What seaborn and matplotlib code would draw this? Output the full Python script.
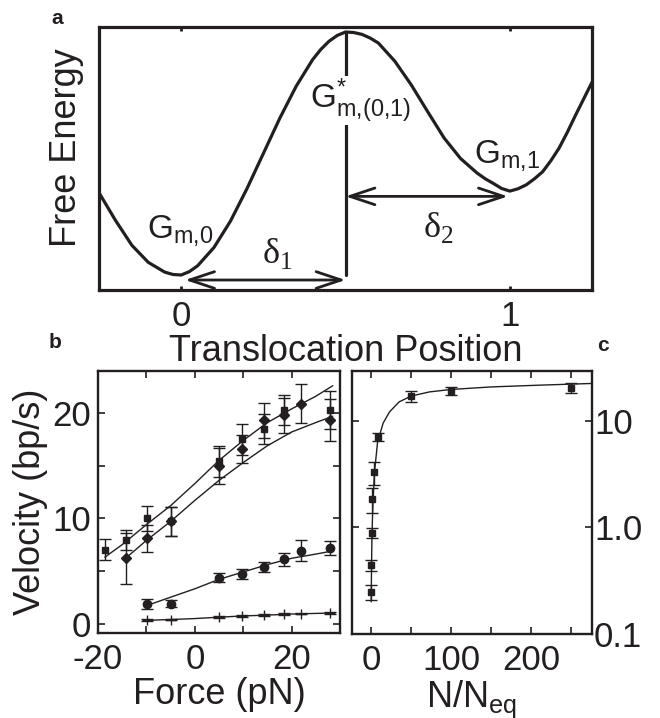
import matplotlib
matplotlib.use("Agg")
import matplotlib.pyplot as plt
import seaborn as sns
import numpy as np
from matplotlib.ticker import MultipleLocator, NullLocator

# panel a: schematic free energy profile
pos = [-0.25, -0.2, -0.15, -0.1, -0.05, -0.025, 0.0, 0.025, 0.05, 0.1, 0.15,
       0.2, 0.25, 0.3, 0.35, 0.4, 0.425, 0.45, 0.475, 0.5, 0.525, 0.55, 0.575,
       0.6, 0.65, 0.7, 0.75, 0.8, 0.85, 0.9, 0.925, 0.95, 0.975, 1.0, 1.025,
       1.05, 1.075, 1.1, 1.125, 1.15, 1.175, 1.2, 1.25]
energy = [0.37, 0.265, 0.17, 0.105, 0.068, 0.059, 0.057, 0.070, 0.092, 0.162,
          0.262, 0.385, 0.519, 0.653, 0.775, 0.876, 0.915, 0.946, 0.968, 0.981,
          0.979, 0.972, 0.958, 0.939, 0.87, 0.78, 0.678, 0.578, 0.50, 0.445,
          0.423, 0.405, 0.386, 0.376, 0.385, 0.40, 0.423, 0.45, 0.492, 0.54,
          0.60, 0.665, 0.79]

# panel b: velocity vs force, four data sets with fits
force_sq = [-18.6, -14.3, -9.8, -5.0, 5.0, 9.8, 14.2, 18.4, 27.9]
vel_sq = [7.0, 7.9, 10.0, 9.7, 15.4, 17.5, 18.5, 20.3, 20.3]
err_sq = [1.0, 0.95, 1.2, 1.4, 1.5, 1.5, 1.4, 1.4, 1.8]

force_di = [-14.3, -9.8, -5.0, 5.0, 9.8, 14.2, 18.4, 21.9, 27.9]
vel_di = [6.2, 8.1, 9.7, 15.0, 16.6, 19.3, 19.8, 20.9, 19.3]
err_di = [2.4, 1.3, 1.4, 1.7, 1.35, 1.7, 1.65, 1.85, 2.0]

force_ci = [-9.8, -5.0, 5.0, 9.8, 14.2, 18.4, 21.9, 27.9]
vel_ci = [1.84, 1.9, 4.37, 4.7, 5.4, 6.1, 6.9, 7.2]
err_ci = [0.5, 0.3, 0.45, 0.45, 0.47, 0.6, 1.0, 0.66]

force_pl = [-9.8, -5.0, 5.0, 9.8, 14.2, 18.4, 21.9, 27.9]
vel_pl = [0.32, 0.38, 0.63, 0.73, 0.79, 0.89, 0.95, 1.0]
err_pl = [0.08, 0.08, 0.08, 0.08, 0.08, 0.08, 0.08, 0.08]

fit1_f = [-18.6, -15, -10, -5, 0, 5, 10, 15, 20, 25, 28.5]
fit1_v = [6.3, 7.5, 9.4, 11.2, 13.3, 15.5, 17.4, 19.1, 20.4, 21.6, 22.6]
fit2_f = [-14.3, -10, -5, 0, 5, 10, 15, 20, 25, 28.5]
fit2_v = [6.2, 7.9, 9.7, 11.7, 13.6, 15.3, 16.9, 18.2, 19.1, 19.7]
fit3_f = [-10, -5, 0, 5, 10, 15, 20, 25, 28.5]
fit3_v = [1.7, 2.5, 3.3, 4.2, 4.9, 5.6, 6.2, 6.6, 6.9]
fit4_f = [-10, -5, 0, 5, 10, 15, 20, 25, 28.5]
fit4_v = [0.3, 0.38, 0.47, 0.6, 0.72, 0.8, 0.9, 0.96, 1.0]

# panel c: velocity vs N/Neq (log scale)
n_ratio = [0.1, 0.3, 0.6, 1, 3, 9, 50, 100, 250]
vel_c = [0.25, 0.44, 0.89, 1.86, 3.3, 7.1, 17.0, 19.0, 20.4]
err_c = [0.04, 0.05, 0.1, 0.5, 0.8, 0.6, 2.0, 1.7, 2.1]
fitc_n = [0, 0.5, 1, 2, 4, 8, 15, 23, 35, 50, 73, 100, 150, 210, 275]
fitc_v = [0.2, 0.45, 0.85, 1.5, 3.2, 6.3, 9.5, 12.1, 15.0, 17.0, 18.6, 19.6,
          20.7, 21.5, 22.3]

sns.set_style("ticks")
plt.rcParams['font.family'] = ['Liberation Sans', 'DejaVu Sans']
plt.rcParams['axes.unicode_minus'] = False
ink = '#231f20'

fig = plt.figure(figsize=(6.6, 7.18), dpi=100)
ax_a = fig.add_axes([0.15, 0.5961, 0.747, 0.3663])
ax_b = fig.add_axes([0.1485, 0.1184, 0.3667, 0.3649])
ax_c = fig.add_axes([0.5333, 0.117, 0.3636, 0.3663])

# ---- panel a
sns.lineplot(x=pos, y=energy, ax=ax_a, color=ink, lw=2.3, sort=False, zorder=3)
e = np.array(energy)
p = np.array(pos)
i_top = int(np.argmax(e))
i_min0 = int(np.argmin(e))
i_min1 = int(np.argmin(np.where(p > p[i_top], e, 9)))
ax_a.plot([p[i_top], p[i_top]], [e[i_min0], e[i_top]], color=ink, lw=2.3, zorder=1)
arrow = dict(arrowstyle='<->,head_length=0.9,head_width=0.3', color=ink,
             lw=2.0, mutation_scale=20, shrinkA=0, shrinkB=0)
ax_a.annotate('', xy=(p[i_min0] + 0.012, e[i_min0] - 0.019),
              xytext=(p[i_top], e[i_min0] - 0.019), arrowprops=arrow)
ax_a.annotate('', xy=(p[i_top], e[i_min1] - 0.02),
              xytext=(p[i_min1] - 0.006, e[i_min1] - 0.02), arrowprops=arrow)

ax_a.text(-0.104, 0.20, r'$\mathregular{G_{m{,}0}}$', fontsize=24,
          ha='left', va='baseline', color=ink)
ax_a.text(0.89, 0.483, r'$\mathregular{G_{m{,}1}}$', fontsize=24,
          ha='left', va='baseline', color=ink)
ax_a.text(0.393, 0.692, r'$\mathregular{G^{*}_{m{,}(0{,}1)}}$', fontsize=24,
          ha='left', va='baseline', color=ink, zorder=2,
          bbox=dict(facecolor='white', edgecolor='none', pad=0))
ax_a.text(0.247, 0.103, r'δ$_\mathregular{1}$', fontsize=26, family='Liberation Serif',
          ha='left', va='baseline', color=ink)
ax_a.text(0.735, 0.2015, r'δ$_\mathregular{2}$', fontsize=26, family='Liberation Serif',
          ha='left', va='baseline', color=ink)

ax_a.set_xlim(-0.25, 1.25)
ax_a.set_ylim(0, 1)
ax_a.set_xticks([0, 1])
ax_a.set_yticks([])
ax_a.tick_params(axis='x', direction='in', top=True, length=3, width=2,
                 labelsize=25, pad=7, colors=ink)
ax_a.set_xlabel('Translocation Position', fontsize=26, labelpad=1, color=ink)
ax_a.set_ylabel('Free Energy', fontsize=26, labelpad=9, color=ink)
ax_a.yaxis.set_label_coords(-0.03, 0.54)
for s in ax_a.spines.values():
    s.set_visible(True)
    s.set_linewidth(2.3)
    s.set_color(ink)
    s.set_zorder(4)

# ---- panel b
eb = dict(color=ink, ecolor=ink, elinewidth=1, capsize=4, capthick=1, lw=0)
ax_b.errorbar(force_sq, vel_sq, yerr=err_sq, fmt='s', ms=5, **eb)
ax_b.errorbar(force_di, vel_di, yerr=err_di, fmt='D', ms=5, **eb)
ax_b.errorbar(force_ci, vel_ci, yerr=err_ci, fmt='o', ms=6, **eb)
ax_b.errorbar(force_pl, vel_pl, yerr=err_pl, fmt='+', ms=7, mew=1, **eb)
for fx, fy in [(fit1_f, fit1_v), (fit2_f, fit2_v), (fit3_f, fit3_v), (fit4_f, fit4_v)]:
    sns.lineplot(x=fx, y=fy, ax=ax_b, color=ink, lw=1)

ax_b.set_xlim(-20, 30)
ax_b.set_ylim(-0.9, 24)
ax_b.set_xticks([-20, 0, 20])
ax_b.xaxis.set_minor_locator(MultipleLocator(10))
ax_b.set_yticks([0, 10, 20])
ax_b.yaxis.set_minor_locator(MultipleLocator(5))
ax_b.tick_params(which='both', direction='in', top=True, right=True, length=5,
                 width=1.2, labelsize=25, pad=5, colors=ink)
ax_b.tick_params(axis='x', pad=7)
ax_b.set_xlabel('Force (pN)', fontsize=26, labelpad=1, color=ink)
ax_b.set_ylabel('Velocity (bp/s)', fontsize=26, labelpad=3, color=ink)

# ---- panel c
ax_c.errorbar(n_ratio, vel_c, yerr=err_c, fmt='s', ms=5, **eb)
sns.lineplot(x=fitc_n, y=fitc_v, ax=ax_c, color=ink, lw=1)
ax_c.set_yscale('log')
ax_c.set_xlim(-24, 276)
ax_c.set_ylim(0.1, 29.2)
ax_c.set_xticks([0, 100, 200])
ax_c.xaxis.set_minor_locator(MultipleLocator(50))
ax_c.set_yticks([0.1, 1, 10])
ax_c.set_yticklabels(['0.1', '1.0', '10'])
ax_c.yaxis.set_minor_locator(NullLocator())
ax_c.tick_params(which='both', direction='in', top=True, right=True, left=True,
                 length=5, width=1.2, labelsize=25, pad=7, colors=ink,
                 labelleft=False, labelright=True)
ax_c.tick_params(axis='y', pad=1.5)
ax_c.set_xlabel(r'N/N$_\mathregular{eq}$', fontsize=26, labelpad=1, color=ink)
ax_c.set_ylabel('')

for ax in (ax_b, ax_c):
    for s in ax.spines.values():
        s.set_visible(True)
        s.set_linewidth(1.7)
        s.set_color(ink)

fig.text(57 / 660, 1 - 18 / 718, 'a', fontsize=15, fontweight='bold',
         ha='center', va='center', color=ink)
fig.text(55 / 660, 1 - 343 / 718, 'b', fontsize=15, fontweight='bold',
         ha='center', va='center', color=ink)
fig.text(603 / 660, 1 - 345 / 718, 'c', fontsize=15, fontweight='bold',
         ha='center', va='center', color=ink)

fig.savefig('out.png', dpi=100)
